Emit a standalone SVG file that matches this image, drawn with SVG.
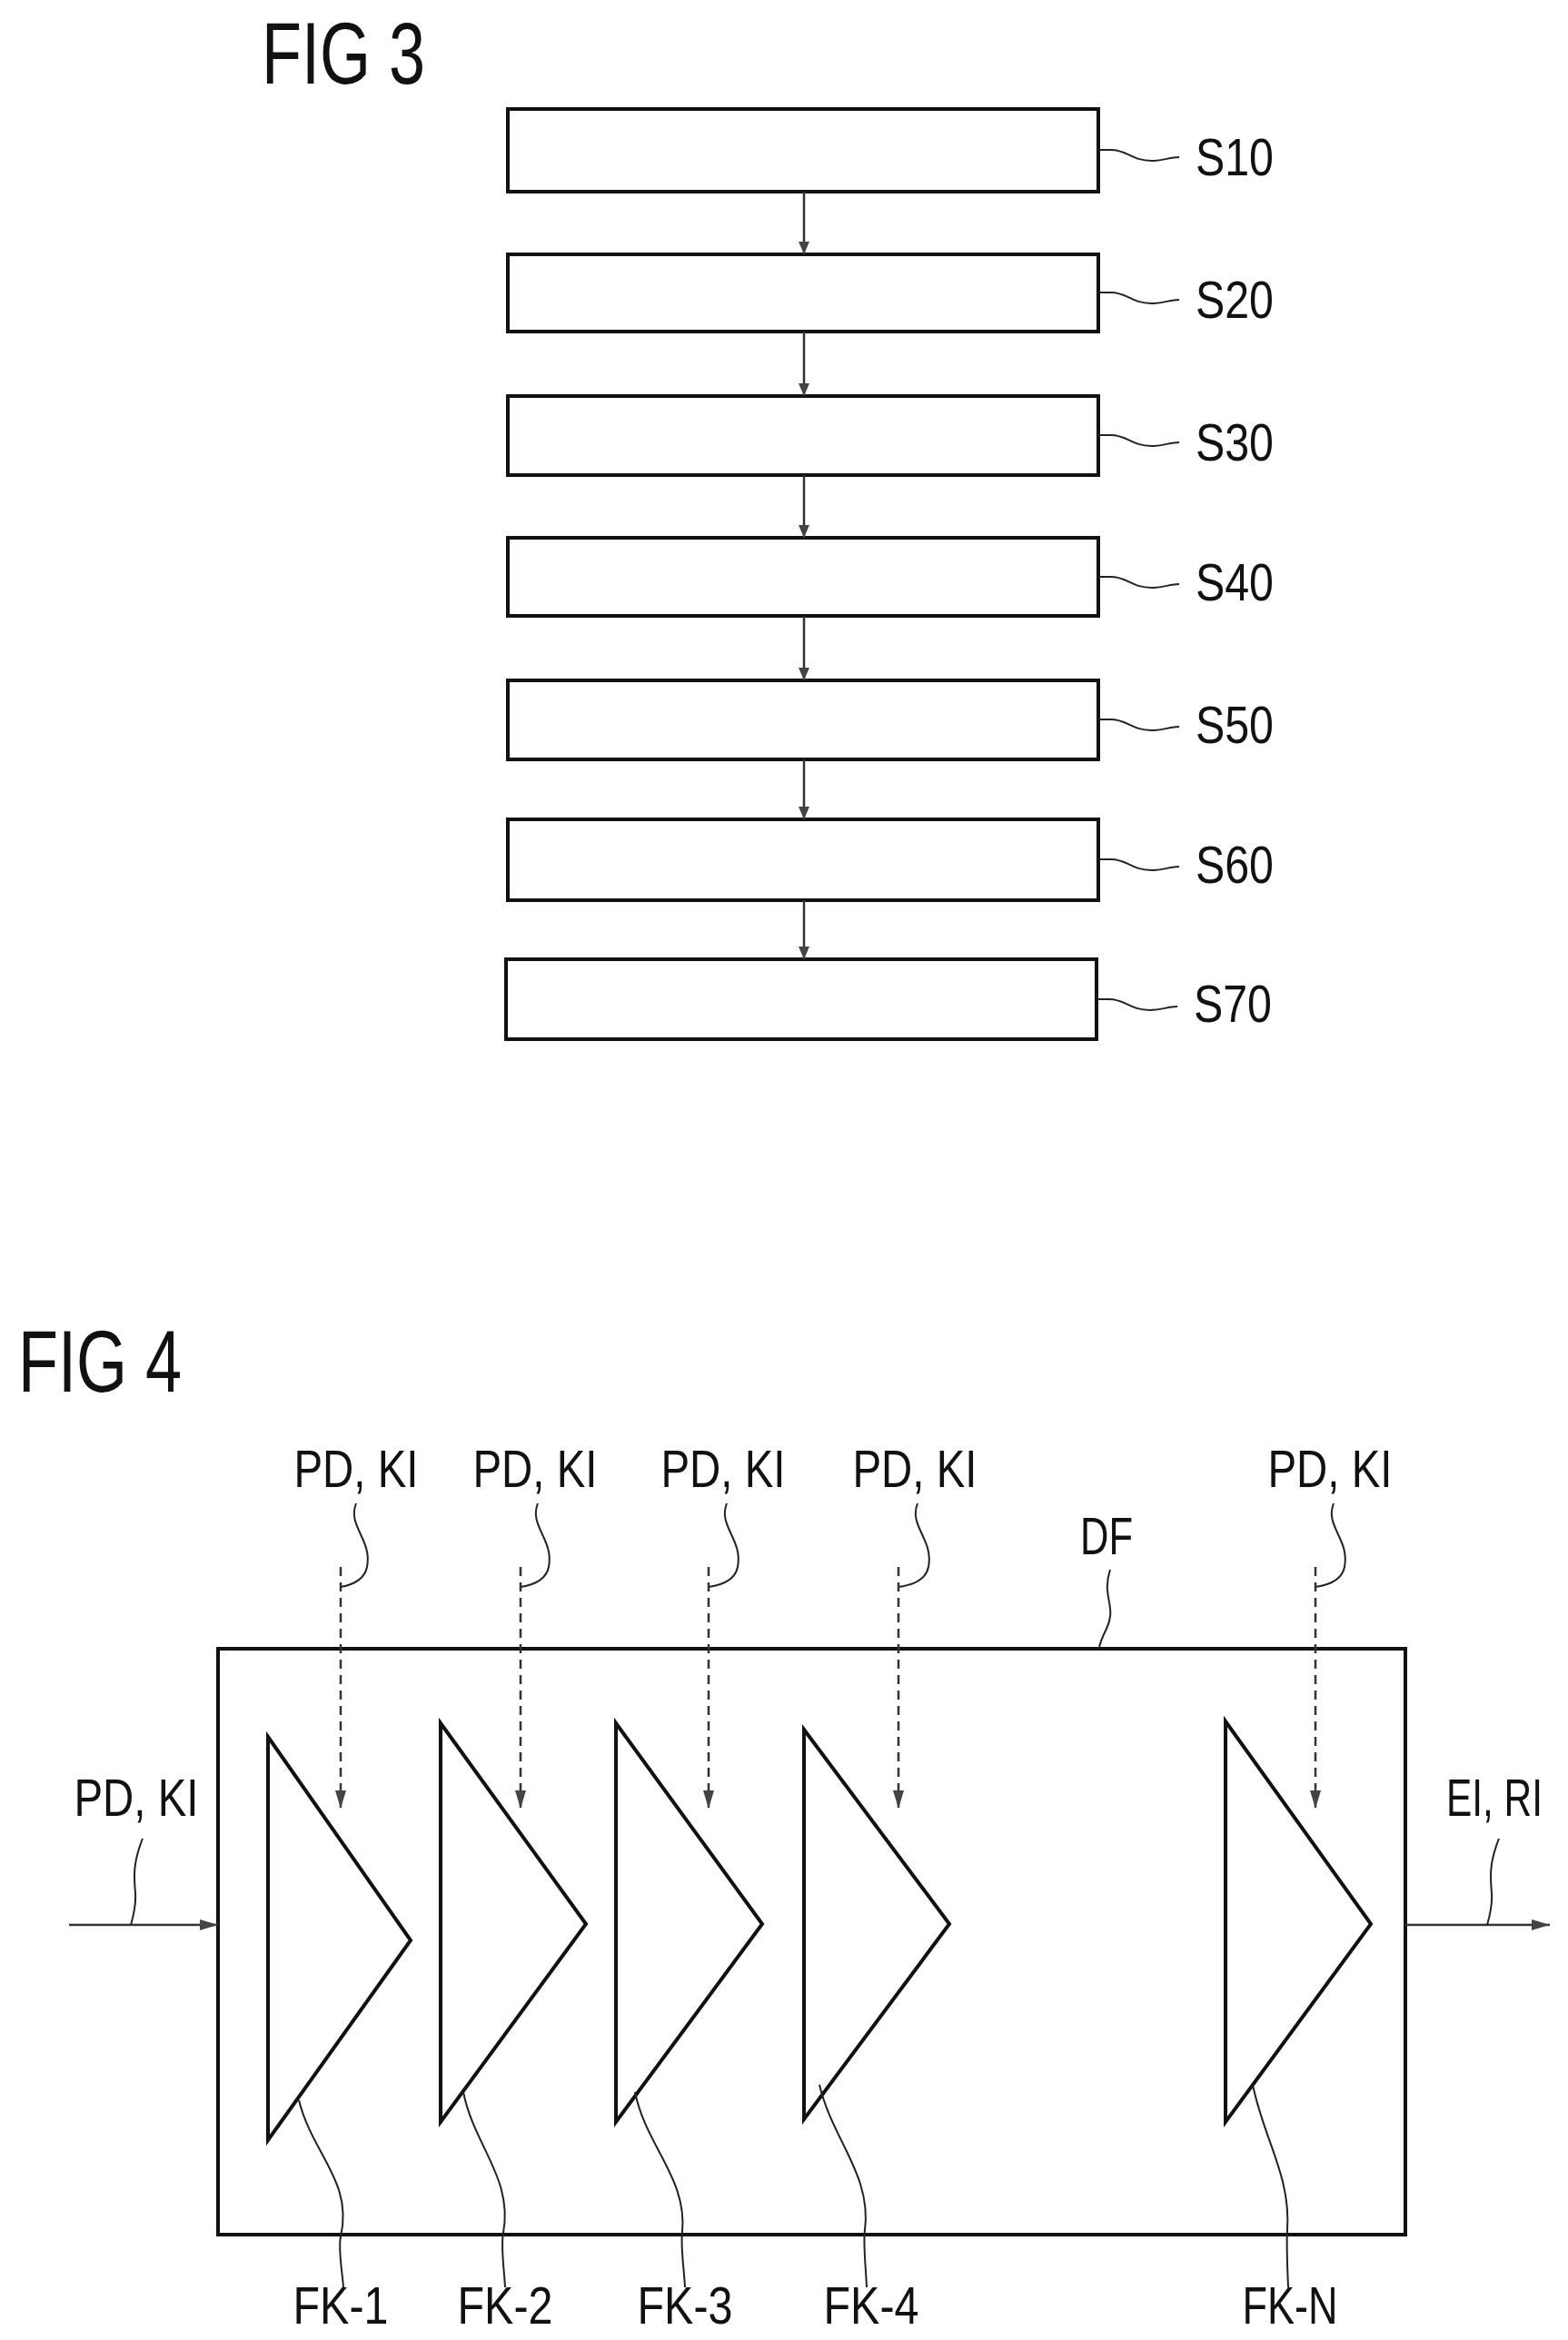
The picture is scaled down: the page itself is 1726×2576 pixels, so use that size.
<svg xmlns="http://www.w3.org/2000/svg" width="1726" height="2576" viewBox="0 0 1726 2576">
<style>
text{font-family:"Liberation Sans",Arial,sans-serif;fill:#111}
.t{font-size:96px}
.l{font-size:57px}
.b{fill:#fff;stroke:#111;stroke-width:4}
.c{fill:none;stroke:#333;stroke-width:2.5}
.d{fill:none;stroke:#333;stroke-width:2.5;stroke-dasharray:10 7}
.w{fill:none;stroke:#222;stroke-width:2}
</style>
<defs>
<marker id="a" markerWidth="14" markerHeight="20" refX="14" refY="7" orient="auto" markerUnits="userSpaceOnUse"><path d="M0 1 L14 7 L0 13 Z" fill="#444"/></marker>
<marker id="A" markerWidth="20" markerHeight="16" refX="20" refY="8" orient="auto" markerUnits="userSpaceOnUse"><path d="M0 2 L20 8 L0 14 Z" fill="#444"/></marker>
</defs>
<text class="t" x="288" y="92" textLength="180" lengthAdjust="spacingAndGlyphs">FIG 3</text>
<g id="S10"><rect class="b" x="559" y="120" width="650" height="91"/><path class="w" d="M1209 165 h14 c18 0 22 12 45 12 c12 0 20 -4 30 -4"/><text class="l" x="1316" y="193" textLength="86" lengthAdjust="spacingAndGlyphs">S10</text></g>
<g id="S20"><rect class="b" x="559" y="280" width="650" height="85"/><path class="w" d="M1209 322 h14 c18 0 22 12 45 12 c12 0 20 -4 30 -4"/><text class="l" x="1316" y="350" textLength="86" lengthAdjust="spacingAndGlyphs">S20</text></g>
<g id="S30"><rect class="b" x="559" y="436" width="650" height="87"/><path class="w" d="M1209 479 h14 c18 0 22 12 45 12 c12 0 20 -4 30 -4"/><text class="l" x="1316" y="507" textLength="86" lengthAdjust="spacingAndGlyphs">S30</text></g>
<g id="S40"><rect class="b" x="559" y="592" width="650" height="86"/><path class="w" d="M1209 635 h14 c18 0 22 12 45 12 c12 0 20 -4 30 -4"/><text class="l" x="1316" y="661" textLength="86" lengthAdjust="spacingAndGlyphs">S40</text></g>
<g id="S50"><rect class="b" x="559" y="749" width="650" height="87"/><path class="w" d="M1209 792 h14 c18 0 22 12 45 12 c12 0 20 -4 30 -4"/><text class="l" x="1316" y="818" textLength="86" lengthAdjust="spacingAndGlyphs">S50</text></g>
<g id="S60"><rect class="b" x="559" y="902" width="650" height="89"/><path class="w" d="M1209 946 h14 c18 0 22 12 45 12 c12 0 20 -4 30 -4"/><text class="l" x="1316" y="972" textLength="86" lengthAdjust="spacingAndGlyphs">S60</text></g>
<g id="S70"><rect class="b" x="557" y="1056" width="650" height="88"/><path class="w" d="M1207 1100 h14 c18 0 22 12 45 12 c12 0 20 -4 30 -4"/><text class="l" x="1314" y="1125" textLength="86" lengthAdjust="spacingAndGlyphs">S70</text></g>
<g id="connectors3">
<line class="c" x1="885" y1="211" x2="885" y2="280" marker-end="url(#a)"/>
<line class="c" x1="885" y1="365" x2="885" y2="436" marker-end="url(#a)"/>
<line class="c" x1="885" y1="523" x2="885" y2="592" marker-end="url(#a)"/>
<line class="c" x1="885" y1="678" x2="885" y2="749" marker-end="url(#a)"/>
<line class="c" x1="885" y1="836" x2="885" y2="902" marker-end="url(#a)"/>
<line class="c" x1="885" y1="991" x2="885" y2="1056" marker-end="url(#a)"/>
</g>
<text class="t" x="20" y="1532" textLength="180" lengthAdjust="spacingAndGlyphs">FIG 4</text>
<g id="DF"><rect class="b" x="240" y="1815" width="1307" height="645"/><path class="w" d="M1222 1728 c-10 30 8 40 -4 65 c-5 10 -8 18 -8 22"/><text class="l" x="1218" y="1711" text-anchor="middle" textLength="58" lengthAdjust="spacingAndGlyphs">DF</text></g>
<g id="FK-1"><path class="b" d="M295 1912 L452 2136 L295 2356 Z"/><path class="w" d="M329 2312 c15 60 60 90 46 150 c-3 15 2 40 3 56"/><text class="l" x="375" y="2558" text-anchor="middle" textLength="105" lengthAdjust="spacingAndGlyphs">FK-1</text></g>
<g id="FK-2"><path class="b" d="M485 1897 L645 2118 L485 2336 Z"/><path class="w" d="M510 2303 c12 60 55 95 44 155 c-3 15 1 40 2 60"/><text class="l" x="556" y="2558" text-anchor="middle" textLength="105" lengthAdjust="spacingAndGlyphs">FK-2</text></g>
<g id="FK-3"><path class="b" d="M678 1897 L839 2118 L678 2336 Z"/><path class="w" d="M699 2303 c12 60 58 95 52 155 c-2 15 2 40 3 60"/><text class="l" x="754" y="2558" text-anchor="middle" textLength="105" lengthAdjust="spacingAndGlyphs">FK-3</text></g>
<g id="FK-4"><path class="b" d="M885 1904 L1045 2118 L885 2333 Z"/><path class="w" d="M902 2295 c14 60 58 100 50 160 c-2 15 1 40 2 63"/><text class="l" x="959" y="2558" text-anchor="middle" textLength="105" lengthAdjust="spacingAndGlyphs">FK-4</text></g>
<g id="FK-N"><path class="b" d="M1349 1895 L1509 2118 L1349 2336 Z"/><path class="w" d="M1379 2295 c12 60 42 100 38 160 c-1 15 0 40 1 63"/><text class="l" x="1420" y="2558" text-anchor="middle" textLength="105" lengthAdjust="spacingAndGlyphs">FK-N</text></g>
<g id="inputs">
<text class="l" x="392" y="1637" text-anchor="middle" textLength="137" lengthAdjust="spacingAndGlyphs">PD, KI</text>
<text class="l" x="589" y="1637" text-anchor="middle" textLength="137" lengthAdjust="spacingAndGlyphs">PD, KI</text>
<text class="l" x="796" y="1637" text-anchor="middle" textLength="137" lengthAdjust="spacingAndGlyphs">PD, KI</text>
<text class="l" x="1007" y="1637" text-anchor="middle" textLength="137" lengthAdjust="spacingAndGlyphs">PD, KI</text>
<text class="l" x="1464" y="1637" text-anchor="middle" textLength="137" lengthAdjust="spacingAndGlyphs">PD, KI</text>
<text class="l" x="150" y="1999" text-anchor="middle" textLength="137" lengthAdjust="spacingAndGlyphs">PD, KI</text>
<text class="l" x="1645" y="1999" text-anchor="middle" textLength="106" lengthAdjust="spacingAndGlyphs">EI, RI</text>
</g>
<g id="connectors4">
<path class="w" d="M392 1655 c-10 25 18 40 12 70 c-3 15 -18 20 -29 22"/>
<path class="w" d="M592 1655 c-10 25 18 40 12 70 c-3 15 -18 20 -31 22"/>
<path class="w" d="M800 1655 c-10 25 18 40 12 70 c-3 15 -18 20 -32 22"/>
<path class="w" d="M1010 1655 c-10 25 18 40 12 70 c-3 15 -18 20 -33 22"/>
<path class="w" d="M1468 1655 c-10 25 18 40 12 70 c-3 15 -18 20 -32 22"/>
<line class="d" x1="375" y1="1725" x2="375" y2="1991" marker-end="url(#A)"/>
<line class="d" x1="573" y1="1725" x2="573" y2="1991" marker-end="url(#A)"/>
<line class="d" x1="780" y1="1725" x2="780" y2="1991" marker-end="url(#A)"/>
<line class="d" x1="989" y1="1725" x2="989" y2="1991" marker-end="url(#A)"/>
<line class="d" x1="1448" y1="1725" x2="1448" y2="1991" marker-end="url(#A)"/>
<line class="c" x1="76" y1="2119" x2="240" y2="2119" marker-end="url(#A)"/>
<path class="w" d="M157 2024 c-10 25 -10 40 -8 60 c1 15 -3 28 -5 35"/>
<line class="c" x1="1547" y1="2119" x2="1706" y2="2119" marker-end="url(#A)"/>
<path class="w" d="M1650 2024 c-10 25 -10 40 -8 60 c1 15 -3 28 -5 35"/>
</g>
</svg>
